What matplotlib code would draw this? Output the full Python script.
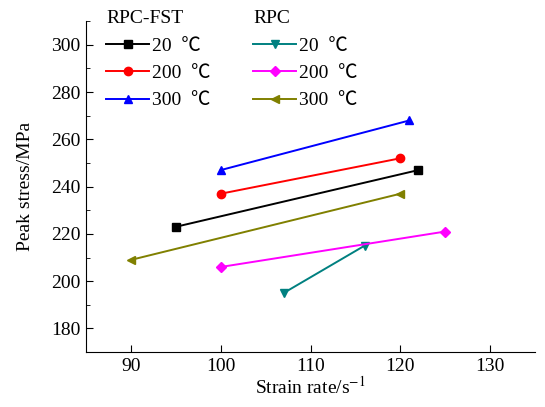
import matplotlib.pyplot as plt
from matplotlib.ticker import MultipleLocator

plt.rcParams['font.family'] = ['Liberation Serif', 'Noto Sans CJK SC']
plt.rcParams['mathtext.fontset'] = 'stix'

# data
fst_20_x = [95, 122]
fst_20_y = [223, 247]
fst_200_x = [100, 120]
fst_200_y = [237, 252]
fst_300_x = [100, 121]
fst_300_y = [247, 268]

rpc_20_x = [107, 116]
rpc_20_y = [195, 215]
rpc_200_x = [100, 125]
rpc_200_y = [206, 221]
rpc_300_x = [90, 120]
rpc_300_y = [209, 237]

labels = ['20  ℃', '200  ℃', '300  ℃']

fig = plt.figure(figsize=(5.45, 4.07), dpi=100)
ax = fig.add_axes([0.158, 0.135, 0.824, 0.813])

ms = 6
h1 = ax.plot(fst_20_x, fst_20_y, '-s', color='black', ms=ms, lw=1.4)[0]
h2 = ax.plot(fst_200_x, fst_200_y, '-o', color='red', ms=ms, lw=1.4)[0]
h3 = ax.plot(fst_300_x, fst_300_y, '-^', color='blue', ms=ms, lw=1.4)[0]
h4 = ax.plot(rpc_20_x, rpc_20_y, '-v', color='#008080', ms=ms, lw=1.4)[0]
h5 = ax.plot(rpc_200_x, rpc_200_y, '-D', color='#ff00ff', ms=5, lw=1.4)[0]
h6 = ax.plot(rpc_300_x, rpc_300_y, '-<', color='#808000', ms=ms, lw=1.4)[0]

ax.set_xlim(85, 135)
ax.set_ylim(170, 310)
ax.xaxis.set_major_locator(MultipleLocator(10))
ax.yaxis.set_major_locator(MultipleLocator(20))
ax.yaxis.set_minor_locator(MultipleLocator(10))
ax.tick_params(direction='in', labelsize=14, length=5, pad=4)
ax.tick_params(which='minor', direction='in', length=3)
ax.spines['top'].set_visible(False)
ax.spines['right'].set_visible(False)

ax.set_xlabel('Strain rate/s$^{-1}$', fontsize=14, labelpad=1)
ax.set_ylabel('Peak stress/MPa', fontsize=14, labelpad=12)

leg_kw = dict(loc='upper left', bbox_transform=fig.transFigure,
              frameon=False, fontsize=14, title_fontsize=14,
              handlelength=2.2, handletextpad=0.15, labelspacing=0.5,
              alignment='left', borderpad=0.2)
leg1 = ax.legend([h1, h2, h3], labels, title='RPC-FST',
                 bbox_to_anchor=(0.17, 1.008), **leg_kw)
ax.add_artist(leg1)
ax.legend([h4, h5, h6], labels, title='RPC',
          bbox_to_anchor=(0.44, 1.008), **leg_kw)

fig.savefig('out.png', dpi=100)
